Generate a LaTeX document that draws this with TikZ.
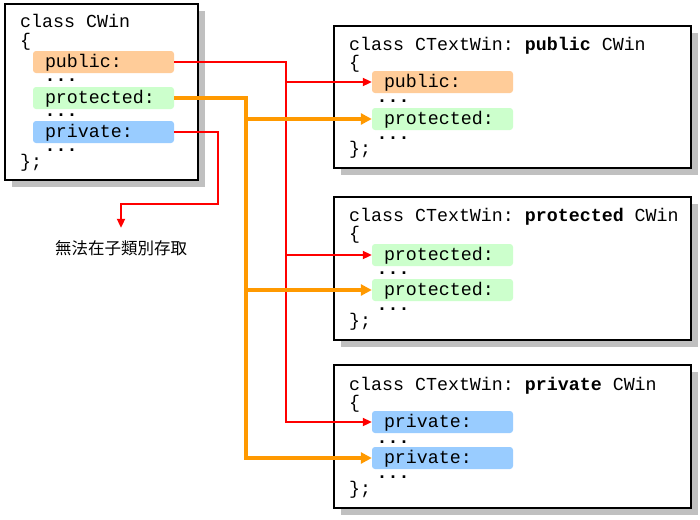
\documentclass[tikz,border=0pt]{standalone}
\usepackage{fontspec}
\setmonofont{Liberation Mono}
\newfontfamily\cjk{Noto Sans CJK TC}
\usetikzlibrary{arrows.meta,shadows}
\definecolor{pubc}{HTML}{FFCC99}
\definecolor{protc}{HTML}{CCFFCC}
\definecolor{privc}{HTML}{99CCFF}
\definecolor{orl}{HTML}{FF9900}
\definecolor{shd}{HTML}{C0C0C0}
\begin{document}
\begin{tikzpicture}[x=1pt,y=-1pt,
  txt/.style={font=\ttfamily\fontsize{18.3pt}{20pt}\selectfont, inner sep=0pt, anchor=base west, text=black},
  obox/.style={draw=black, line width=1.8pt, fill=white, inner sep=0pt,
    drop shadow={shadow xshift=7pt, shadow yshift=-7pt, fill=shd, opacity=1}},
  ibox/.style={rounded corners=3pt, inner xsep=12pt, inner ysep=0pt, minimum height=22pt,
    text width=117pt, text height=11pt, text depth=0pt, align=left,
    font=\ttfamily\fontsize{18.3pt}{20pt}\selectfont},
  redl/.style={draw=red, line width=2pt, -{Triangle[length=9pt,width=8pt]}},
  orgl/.style={draw=orl, line width=4pt, -{Triangle[length=11pt,width=11pt]}}
]
\useasboundingbox (0,0) rectangle (700,519);
% outer boxes
\node[obox, minimum width=193pt, minimum height=176pt] (w1) at (101.5,92) {};
\node[obox, minimum width=357pt, minimum height=142pt] (w2) at (512.5,97) {};
\node[obox, minimum width=357pt, minimum height=143pt] (w3) at (512.5,268.5) {};
\node[obox, minimum width=357pt, minimum height=143pt] (w4) at (512.5,436.5) {};

% box 1
\node[txt] (t1) at (20,28) {class CWin};
\node[txt] (o1) at (20,47) {\{};
\node[ibox, fill=pubc] (a1) at (103.5,62) {public:};
\node[txt] (d1a) at (44.5,81) {\textbf{...}};
\node[ibox, fill=protc] (a2) at (103.5,98) {protected:};
\node[txt] (d1b) at (44.5,116) {\textbf{...}};
\node[ibox, fill=privc] (a3) at (103.5,132) {private:};
\node[txt] (d1c) at (44.5,151) {\textbf{...}};
\node[txt] (c1) at (20,167) {\};};

% box 2
\node[txt] (t2) at (349,50) {class CTextWin: \textbf{public} CWin};
\node[txt] (o2) at (349,68) {\{};
\node[ibox, fill=pubc] (b1) at (442.5,82) {public:};
\node[txt] (d2a) at (376.5,102) {\textbf{...}};
\node[ibox, fill=protc] (b2) at (442.5,119) {protected:};
\node[txt] (d2b) at (376.5,139) {\textbf{...}};
\node[txt] (c2) at (349,154) {\};};

% box 3
\node[txt] (t3) at (349,221) {class CTextWin: \textbf{protected} CWin};
\node[txt] (o3) at (349,239) {\{};
\node[ibox, fill=protc] (e1) at (442.5,255) {protected:};
\node[txt] (d3a) at (376.5,274) {\textbf{...}};
\node[ibox, fill=protc] (e2) at (442.5,290) {protected:};
\node[txt] (d3b) at (376.5,310) {\textbf{...}};
\node[txt] (c3) at (349,326) {\};};

% box 4
\node[txt] (t4) at (349,390) {class CTextWin: \textbf{private} CWin};
\node[txt] (o4) at (349,408) {\{};
\node[ibox, fill=privc] (f1) at (442.5,422) {private:};
\node[txt] (d4a) at (376.5,443) {\textbf{...}};
\node[ibox, fill=privc] (f2) at (442.5,458) {private:};
\node[txt] (d4b) at (376.5,478) {\textbf{...}};
\node[txt] (c4) at (349,494) {\};};

% note
\node[font=\cjk\fontsize{16.5pt}{18pt}\selectfont, minimum height=40pt, inner sep=0pt] (note) at (121,248) {無法在子類別存取};

% connectors
\coordinate (rx) at (286,0);
\coordinate (ox) at (246,0);
\coordinate (px) at (218,0);
\coordinate (py) at (0,204);

\draw[redl] (a1.east) -- (a1.east -| rx) |- (b1.west);
\draw[redl] (a1.east -| rx) |- (e1.west);
\draw[redl] (a1.east -| rx) |- (f1.west);

\draw[orgl] (a2.east) -- (a2.east -| ox) |- (b2.west);
\draw[orgl] (a2.east -| ox) |- (e2.west);
\draw[orgl] (a2.east -| ox) |- (f2.west);

\draw[redl] (a3.east) -- (a3.east -| px) -- (px |- py) -| (note.north);
\end{tikzpicture}
\end{document}
